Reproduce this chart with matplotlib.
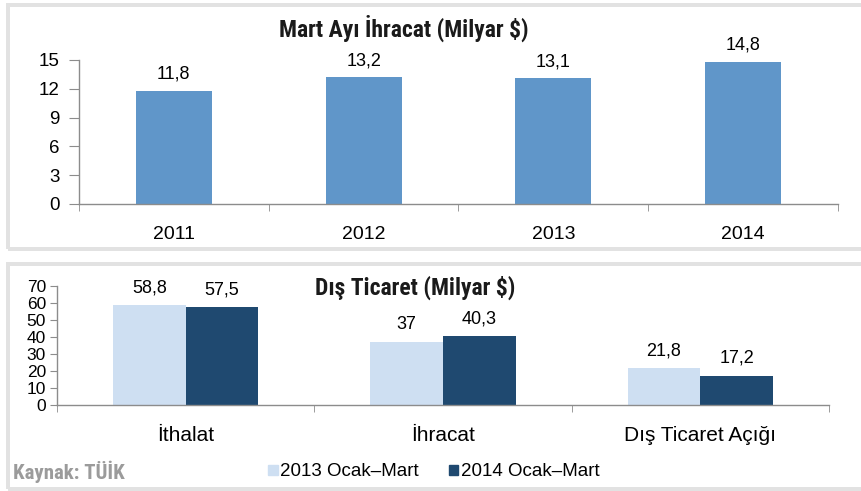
import matplotlib
matplotlib.use("Agg")
import matplotlib.pyplot as plt
from matplotlib.patches import Rectangle, Patch
import numpy as np

# Mart ayı ihracat
years = ["2011", "2012", "2013", "2014"]
mart_ihracat = [11.8, 13.2, 13.1, 14.8]
mart_labels = ["11,8", "13,2", "13,1", "14,8"]

# Dış ticaret
kalemler = ["İthalat", "İhracat", "Dış Ticaret Açığı"]
ocak_mart_2013 = [58.8, 37.0, 21.8]
ocak_mart_2014 = [57.5, 40.3, 17.2]
labels_2013 = ["58,8", "37", "21,8"]
labels_2014 = ["57,5", "40,3", "17,2"]
seri_adlari = ["2013 Ocak–Mart", "2014 Ocak–Mart"]

W, H = 862, 491
plt.rcParams["font.family"] = ["Liberation Sans", "DejaVu Sans"]
narrow = ["Roboto Condensed", "Barlow Condensed", "Archivo Narrow", "Liberation Sans"]
spine_gray = "#8c8c8c"

fig = plt.figure(figsize=(W / 100, H / 100), dpi=100)

# panel frames
for y0, y1 in [(5, 249), (264, 489)]:
    fig.patches.append(Rectangle((8 / W, 1 - y1 / H), (880 - 8) / W, (y1 - y0) / H,
                                 transform=fig.transFigure, fill=False,
                                 ec="#e2e2e2", lw=4 * 0.72, zorder=0))


def style_axes(ax, n):
    for s in ["top", "right"]:
        ax.spines[s].set_visible(False)
    for s in ["left", "bottom"]:
        ax.spines[s].set_color(spine_gray)
        ax.spines[s].set_linewidth(1)
    ax.set_xlim(-0.5, n - 0.5)
    ax.set_xticks(np.arange(n))
    ax.set_xticks(np.arange(n + 1) - 0.5, minor=True)
    ax.tick_params(axis="x", which="major", length=0)
    ax.tick_params(axis="x", which="minor", length=5, color=spine_gray, direction="out")
    ax.tick_params(axis="y", color=spine_gray, direction="out")


# top chart
ax1 = fig.add_axes([79 / W, 1 - 204 / H, (838 - 79) / W, (204 - 60) / H])
x = np.arange(len(years))
ax1.bar(x, mart_ihracat, width=0.4, color="#6096C9")
style_axes(ax1, len(years))
ax1.set_ylim(0, 15)
ax1.set_yticks([0, 3, 6, 9, 12, 15])
ax1.set_xticklabels(years, fontsize=14)
ax1.tick_params(axis="x", which="major", pad=16)
ax1.tick_params(axis="y", length=7, labelsize=13.5, pad=7)
for xi, v, t in zip(x, mart_ihracat, mart_labels):
    ax1.annotate(t, (xi, v), xytext=(0, 12), textcoords="offset points",
                 ha="center", va="center", fontsize=13)
fig.text(404 / W, 1 - 28 / H, "Mart Ayı İhracat (Milyar $)", ha="center", va="center",
         fontsize=17, fontweight="heavy", family=narrow, color="#1a1a1a")

# bottom chart
ax2 = fig.add_axes([57 / W, 1 - 405 / H, (829 - 57) / W, (405 - 286) / H])
x2 = np.arange(len(kalemler))
bw = 0.283
ax2.bar(x2 - bw / 2, ocak_mart_2013, width=bw, color="#CEDFF2")
ax2.bar(x2 + bw / 2, ocak_mart_2014, width=bw, color="#1F4970")
style_axes(ax2, len(kalemler))
ax2.set_ylim(0, 70)
ax2.set_yticks(np.arange(0, 71, 10))
ax2.set_xticklabels(kalemler, fontsize=15)
ax2.tick_params(axis="x", which="major", pad=15)
ax2.tick_params(axis="y", length=5, labelsize=12.5, pad=3)
for xi, v, t in zip(x2 - bw / 2, ocak_mart_2013, labels_2013):
    ax2.annotate(t, (xi, v), xytext=(0, 12.5), textcoords="offset points",
                 ha="center", va="center", fontsize=13)
for xi, v, t in zip(x2 + bw / 2, ocak_mart_2014, labels_2014):
    ax2.annotate(t, (xi, v), xytext=(0, 12.5), textcoords="offset points",
                 ha="center", va="center", fontsize=13)
fig.text(415 / W, 1 - 288 / H, "Dış Ticaret (Milyar $)", ha="center", va="center",
         fontsize=17, fontweight="heavy", family=narrow, color="#1a1a1a")

handles = [Patch(color="#CEDFF2"), Patch(color="#1F4970")]
fig.legend(handles, seri_adlari, loc="center", bbox_to_anchor=(434 / W, 1 - 472 / H),
           bbox_transform=fig.transFigure, ncol=2, frameon=False, fontsize=13.5,
           handlelength=0.5, handleheight=0.5, handletextpad=0.15,
           columnspacing=1.6, borderpad=0)

fig.text(13 / W, 1 - 472 / H, "Kaynak: TÜİK", ha="left", va="center", fontsize=15,
         fontweight="heavy", family=narrow, color="#9b9b9b")

fig.savefig("out.png", dpi=100)
